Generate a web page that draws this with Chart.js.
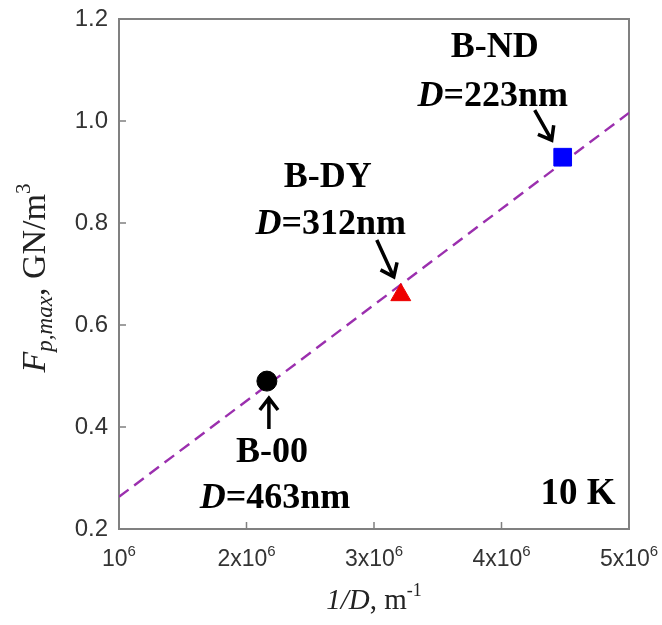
<!DOCTYPE html>
<html>
<head>
<meta charset="utf-8">
<script src="https://cdn.jsdelivr.net/npm/chart.js@4.4.0/dist/chart.umd.min.js"></script>
<style>
  html, body { margin: 0; padding: 0; background: #fff; }
  #wrap { width: 662px; height: 625px; }
</style>
</head>
<body>
<div id="wrap"><canvas id="fpChart" width="662" height="625"></canvas></div>
<script>
// samples: name, grain size, 1/D and peak pinning force
const sampleNames = ['B-00', 'B-DY', 'B-ND'];
const grainSizes = ['463', '312', '223'];
const invD = [2.16e6, 3.21e6, 4.48e6];
const fpMax = [0.49, 0.659, 0.929];

// dashed fit line
const fitX = [1e6, 5e6];
const fitY = [0.263, 1.016];

// axes
const xTicks = [1e6, 2e6, 3e6, 4e6, 5e6];
const xTickMantissa = ['', '2x', '3x', '4x', '5x'];
const yTicks = [0.2, 0.4, 0.6, 0.8, 1.0, 1.2];
const tempLabel = '10 K';

const markerStyles = ['circle', 'triangle', 'rect'];
const markerColors = ['#000000', '#ee0000', '#0000ff'];
const markerSizes = [10, 11.5, 12.5];

const serif = '"Liberation Serif", "Times New Roman", serif';
const sans = '"Liberation Sans", Arial, sans-serif';

function richText(ctx, parts, x, y, align) {
  // parts: [{t, font, dy}]
  let total = 0;
  parts.forEach(p => { ctx.font = p.font; p.w = ctx.measureText(p.t).width; total += p.w; });
  let cx = align === 'center' ? x - total / 2 : (align === 'right' ? x - total : x);
  ctx.textAlign = 'left';
  parts.forEach(p => {
    ctx.font = p.font;
    ctx.fillText(p.t, cx, y + (p.dy || 0));
    cx += p.w;
  });
}

function arrow(ctx, x1, y1, x2, y2) {
  const a = Math.atan2(y2 - y1, x2 - x1);
  const len = 15, spread = 0.65;
  ctx.beginPath();
  ctx.moveTo(x1, y1);
  ctx.lineTo(x2, y2);
  ctx.moveTo(x2 - len * Math.cos(a - spread), y2 - len * Math.sin(a - spread));
  ctx.lineTo(x2, y2);
  ctx.lineTo(x2 - len * Math.cos(a + spread), y2 - len * Math.sin(a + spread));
  ctx.stroke();
}

const decorations = {
  id: 'decorations',
  beforeDatasetsDraw(chart) {
    const { ctx, chartArea: a } = chart;
    ctx.save();
    ctx.strokeStyle = '#808080';
    ctx.lineWidth = 2;
    ctx.strokeRect(a.left, a.top, a.right - a.left, a.bottom - a.top);
    ctx.restore();
  },
  afterDraw(chart) {
    const { ctx, chartArea: a, scales } = chart;
    const xs = scales.x, ys = scales.y;
    ctx.save();

    // inward tick marks
    ctx.strokeStyle = '#808080';
    ctx.lineWidth = 1.5;
    ctx.beginPath();
    xTicks.forEach(v => {
      const px = xs.getPixelForValue(v);
      ctx.moveTo(px, a.bottom);
      ctx.lineTo(px, a.bottom - 7);
    });
    yTicks.forEach(v => {
      const py = ys.getPixelForValue(v);
      ctx.moveTo(a.left, py);
      ctx.lineTo(a.left + 7, py);
    });
    ctx.stroke();

    // tick labels
    ctx.fillStyle = '#333333';
    ctx.textBaseline = 'alphabetic';
    xTicks.forEach((v, i) => {
      const px = xs.getPixelForValue(v);
      richText(ctx, [
        { t: xTickMantissa[i] + '10', font: '23px ' + sans },
        { t: '6', font: '15px ' + sans, dy: -10 }
      ], px, a.bottom + 37, 'center');
    });
    ctx.textAlign = 'right';
    ctx.textBaseline = 'middle';
    ctx.font = '24px ' + sans;
    yTicks.forEach(v => {
      ctx.fillText(v.toFixed(1), a.left - 11, ys.getPixelForValue(v));
    });

    // axis titles
    ctx.fillStyle = '#222222';
    ctx.textBaseline = 'alphabetic';
    richText(ctx, [
      { t: '1/D', font: 'italic 29px ' + serif },
      { t: ', m', font: '29px ' + serif },
      { t: '-1', font: '18px ' + serif, dy: -13 }
    ], (a.left + a.right) / 2, 609, 'center');

    ctx.save();
    ctx.translate(45, 278);
    ctx.rotate(-Math.PI / 2);
    richText(ctx, [
      { t: 'F', font: 'italic 34px ' + serif },
      { t: 'p,max', font: 'italic 23px ' + serif, dy: 7 },
      { t: ', GN/m', font: '34px ' + serif },
      { t: '3', font: '21px ' + serif, dy: -15 }
    ], 0, 0, 'center');
    ctx.restore();

    // sample annotations
    const meta = chart.getDatasetMeta(0);
    const bold = 'bold 36px ' + serif;
    const boldIt = 'italic bold 36px ' + serif;
    const place = [
      { name: [5, 69], size: [8, 115], tail: [2, 48], tip: [2, 17] },
      { name: [-73, -120], size: [-70, -73], tail: [-24, -55], tip: [-7, -18] },
      { name: [-68, -112], size: [-70, -63], tail: [-28, -47], tip: [-11, -17] }
    ];
    ctx.fillStyle = '#000000';
    ctx.strokeStyle = '#000000';
    ctx.lineWidth = 3.5;
    ctx.lineCap = 'butt';
    ctx.lineJoin = 'miter';
    meta.data.forEach((pt, i) => {
      const p = place[i];
      richText(ctx, [{ t: sampleNames[i], font: bold }],
        pt.x + p.name[0], pt.y + p.name[1] + 12, 'center');
      richText(ctx, [
        { t: 'D', font: boldIt },
        { t: '=' + grainSizes[i] + 'nm', font: bold }
      ], pt.x + p.size[0], pt.y + p.size[1] + 12, 'center');
      arrow(ctx, pt.x + p.tail[0], pt.y + p.tail[1], pt.x + p.tip[0], pt.y + p.tip[1]);
    });

    ctx.font = 'bold 37px ' + serif;
    ctx.textAlign = 'center';
    ctx.fillText(tempLabel, a.right - 51, a.bottom - 25);

    ctx.restore();
  }
};

new Chart(document.getElementById('fpChart'), {
  type: 'scatter',
  data: {
    datasets: [
      {
        label: 'Samples',
        data: invD.map((x, i) => ({ x, y: fpMax[i] })),
        pointStyle: markerStyles,
        backgroundColor: markerColors,
        borderColor: markerColors,
        pointRadius: markerSizes,
        borderWidth: 1
      },
      {
        label: 'Fit',
        data: fitX.map((x, i) => ({ x, y: fitY[i] })),
        showLine: true,
        borderColor: '#9b2fae',
        borderWidth: 2.4,
        borderDash: [12, 7],
        pointRadius: 0
      }
    ]
  },
  options: {
    responsive: false,
    animation: false,
    layout: { padding: { left: 119, top: 19, right: 33, bottom: 96 } },
    plugins: { legend: { display: false }, tooltip: { enabled: false } },
    scales: {
      x: { type: 'linear', min: 1e6, max: 5e6, display: false },
      y: { type: 'linear', min: 0.2, max: 1.2, display: false }
    }
  },
  plugins: [decorations]
});
</script>
</body>
</html>
